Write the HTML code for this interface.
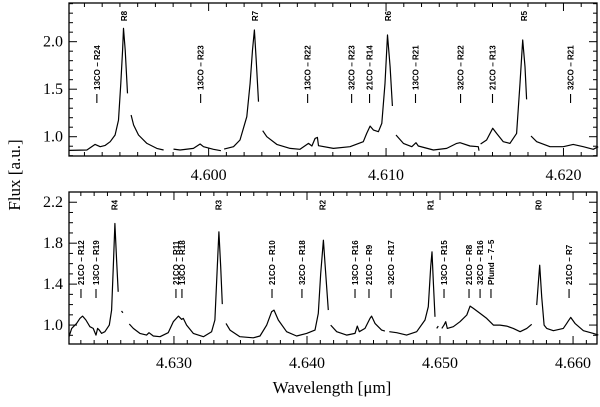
<!DOCTYPE html>
<html><head><meta charset="utf-8"><style>
html,body{margin:0;padding:0;background:#fff;}
svg{display:block;}
text{font-family:"Liberation Serif",serif;fill:#000;}
.ann{font-family:"Liberation Sans",sans-serif;font-size:8px;font-weight:bold;}
</style></head><body>
<svg id="chart" width="600" height="407" viewBox="0 0 600 407"></svg>
<script>
// ---- Data ----
const topSegWl = [
 [4.59214,4.59314,4.59360,4.59389,4.59417,4.59445,4.59473,4.59492,4.59505,4.59515,4.59520,4.59530,4.59543],
 [4.59563,4.59577,4.59605,4.59652,4.59708,4.59746],
 [4.59802,4.59839,4.59914,4.59952,4.59971,4.60027,4.60069],
 [4.60087,4.60140,4.60177,4.60215,4.60234,4.60247,4.60258,4.60268,4.60281],
 [4.60305,4.60328,4.60384,4.60459,4.60515,4.60563,4.60582,4.60600,4.60613,4.60619,4.60703,4.60797,4.60872,4.60891,4.60910,4.60929,4.60957,4.60976,4.60994,4.61008,4.61023,4.61036],
 [4.61056,4.61098,4.61145,4.61169,4.61182,4.61267,4.61342,4.61398,4.61417,4.61473,4.61520,4.61524],
 [4.61533,4.61567,4.61601,4.61623,4.61661,4.61698,4.61736,4.61755,4.61770,4.61783,4.61792],
 [4.61817,4.61849,4.61924,4.61999,4.62055,4.62112,4.62168,4.62196]
];
const topSegFlux = [
 [0.856,0.860,0.919,0.895,0.909,0.947,1.018,1.175,1.561,1.912,2.140,1.912,1.456],
 [1.228,1.123,1.018,0.930,0.877,0.860],
 [0.870,0.860,0.877,0.923,0.895,0.867,0.853],
 [0.870,0.895,0.965,1.211,1.561,1.912,2.123,1.807,1.368],
 [1.063,1.000,0.919,0.877,0.867,0.930,0.902,0.982,0.993,0.905,0.877,0.895,0.947,1.035,1.112,1.070,1.053,1.140,1.561,2.070,1.737,1.323],
 [1.018,0.930,0.895,0.937,0.902,0.860,0.877,0.930,0.937,0.902,0.895,0.853],
 [0.923,0.965,1.088,1.035,0.947,0.930,1.035,1.561,2.018,1.737,1.393],
 [1.007,0.947,0.895,0.895,0.919,0.895,0.867,0.895]
];
const botSegWl = [
 [4.62211,4.62231,4.62268,4.62293,4.62313,4.62338,4.62368,4.62393,4.62414,4.62426,4.62439,4.62456,4.62481,4.62514,4.62531,4.62544,4.62556,4.62569,4.62581],
 [4.62606,4.62616],
 [4.62664,4.62694,4.62744,4.62794,4.62812,4.62845,4.62895,4.62957,4.62995,4.63033,4.63058,4.63070,4.63095,4.63145,4.63221,4.63283,4.63308,4.63326,4.63338,4.63351,4.63363],
 [4.63391,4.63421,4.63496,4.63596,4.63647,4.63697,4.63734,4.63752,4.63784,4.63847,4.63922,4.63997,4.64060,4.64085,4.64103,4.64123,4.64135,4.64160],
 [4.64178,4.64223,4.64298,4.64361,4.64378,4.64393,4.64436,4.64474,4.64486,4.64511,4.64561,4.64586],
 [4.64619,4.64674,4.64749,4.64825,4.64887,4.64912,4.64930,4.64940,4.64950,4.64962],
 [4.64975,4.64987],
 [4.65013,4.65030,4.65043,4.65055,4.65100,4.65150,4.65201,4.65226,4.65251,4.65301,4.65351,4.65401,4.65451,4.65501,4.65551,4.65602,4.65652,4.65689],
 [4.65727,4.65739,4.65749,4.65764,4.65782,4.65802,4.65852,4.65927,4.65952,4.65965,4.65982,4.66015,4.66078,4.66153,4.66190]
];
const botSegFlux = [
 [0.886,0.967,1.016,1.065,1.088,1.049,0.984,0.967,0.902,0.967,0.951,0.919,0.935,1.000,1.146,1.569,1.992,1.634,1.325],
 [1.137,1.120],
 [1.010,0.967,0.919,0.902,0.925,0.893,0.886,0.925,1.033,1.088,1.055,1.065,1.000,0.919,0.886,0.935,1.049,1.569,1.911,1.569,1.205],
 [1.016,0.951,0.886,0.876,0.893,1.000,1.130,1.146,1.049,0.935,0.893,0.919,0.951,1.114,1.504,1.829,1.602,1.146],
 [1.000,0.935,0.902,0.919,0.990,0.935,0.967,1.065,1.088,1.016,0.951,0.941],
 [0.935,0.925,0.902,0.935,1.049,1.179,1.569,1.715,1.407,1.081],
 [0.967,0.990],
 [0.967,1.000,1.033,0.967,0.984,1.033,1.098,1.185,1.163,1.114,1.065,1.000,1.000,0.990,0.967,0.935,0.967,1.007],
 [1.195,1.407,1.585,1.276,1.000,0.967,0.945,0.967,1.016,1.042,1.075,1.016,0.945,0.919,0.902]
];
const topMainLabels = ["R8","R7","R6","R5"];
const topMainWl = [4.59523,4.60262,4.61012,4.61778];
const topAnnLabels = ["13CO − R24","13CO − R23","13CO − R22","32CO − R23","21CO − R14","13CO − R21","32CO − R22","21CO − R13","32CO − R21"];
const topAnnWl = [4.59370,4.59955,4.60558,4.60806,4.60907,4.61166,4.61420,4.61600,4.62040];
const botMainLabels = ["R4","R3","R2","R1","R0"];
const botMainWl = [4.62552,4.63334,4.64116,4.64928,4.65739];
const botAnnLabels = ["21CO − R12","13CO − R19","21CO − R11","13CO − R18","21CO − R10","32CO − R18","13CO − R16","21CO − R9","32CO − R17","13CO − R15","21CO − R8","32CO − R16","Pfund − 7−5","21CO − R7"];
const botAnnWl = [4.62301,4.62414,4.63015,4.63060,4.63737,4.63962,4.64361,4.64466,4.64632,4.65030,4.65218,4.65301,4.65383,4.65970];
const topYTicks = [1.0,1.5,2.0];
const botYTicks = [1.0,1.4,1.8,2.2];
const topXTicks = [4.600,4.610,4.620];
const botXTicks = [4.630,4.640,4.650,4.660];

// ---- Drawing ----
const NS="http://www.w3.org/2000/svg";
const svg=document.getElementById('chart');
function mk(tag,attrs,parent){const e=document.createElementNS(NS,tag);for(const k in attrs)e.setAttribute(k,attrs[k]);(parent||svg).appendChild(e);return e;}

function panel(cfg){
  const g=mk('g',{});
  
  
  const X=v=>cfg.x0+(v-cfg.wl0)/(cfg.wl1-cfg.wl0)*(cfg.x1-cfg.x0);
  const Y=v=>cfg.y1-(v-cfg.f0)/(cfg.f1-cfg.f0)*(cfg.y1-cfg.y0);
  cfg.segWl.forEach((ws,i)=>{
    const pts=ws.map((w,j)=>X(w).toFixed(1)+','+Y(cfg.segFlux[i][j]).toFixed(1)).join(' ');
    const pl=mk('polyline',{points:pts,fill:'none',stroke:'#000','stroke-width':1.2,'stroke-linejoin':'round'},g);
    
    
  });
  const fr=mk('rect',{x:cfg.x0,y:cfg.y0,width:cfg.x1-cfg.x0,height:cfg.y1-cfg.y0,fill:'none',stroke:'#000','stroke-width':1.3},g);
  
  
  const start=Math.ceil(cfg.wl0*1000), end=Math.floor(cfg.wl1*1000);
  for(let k=start;k<=end;k++){
    const x=X(k/1000); const major=(k%10===0); const L=major?8:4;
    mk('line',{x1:x,x2:x,y1:cfg.y1,y2:cfg.y1-L,stroke:'#000','stroke-width':1},g);
    mk('line',{x1:x,x2:x,y1:cfg.y0,y2:cfg.y0+L,stroke:'#000','stroke-width':1},g);
  }
  cfg.xTicks.forEach(t=>{
    const tx=mk('text',{x:X(t),y:cfg.y1+24,'text-anchor':'middle','font-size':16},g);
    tx.textContent=t.toFixed(3);
    
    
  });
  for(let k=Math.ceil(cfg.f0*10);k<=Math.floor(cfg.f1*10);k++){
    const v=k/10,y=Y(v); const major=cfg.yTicks.some(t=>Math.abs(t-v)<1e-6); const L=major?8:4;
    mk('line',{x1:cfg.x0,x2:cfg.x0+L,y1:y,y2:y,stroke:'#000','stroke-width':1},g);
    mk('line',{x1:cfg.x1,x2:cfg.x1-L,y1:y,y2:y,stroke:'#000','stroke-width':1},g);
  }
  cfg.yTicks.forEach(t=>{
    const tx=mk('text',{x:cfg.x0-6,y:Y(t)+5,'text-anchor':'end','font-size':16},g);
    tx.textContent=t.toFixed(1);
    
    
  });
  cfg.mainLabels.forEach((l,i)=>{
    const x=X(cfg.mainWl[i]);
    const tx=mk('text',{class:'ann',x:0,y:0,'text-anchor':'middle',transform:`translate(${x+3},${cfg.mainY}) rotate(-90)`},g);
    tx.textContent=l;
    
    
  });
  cfg.annLabels.forEach((l,i)=>{
    const x=X(cfg.annWl[i]);
    const ln=mk('line',{x1:x,x2:x,y1:cfg.annBot,y2:cfg.annBot-9,stroke:'#000','stroke-width':1.1},g);
    
    
    const tx=mk('text',{class:'ann',x:0,y:0,'text-anchor':'start',transform:`translate(${x+3},${cfg.annBot-13}) rotate(-90)`},g);
    tx.textContent=l;
    
    
  });
}
panel({name:'top-panel',x0:69,x1:597,y0:3,y1:156,wl0:4.59213,wl1:4.62189,f0:0.797,f1:2.407,
  segWl:topSegWl,segFlux:topSegFlux,xTicks:topXTicks,yTicks:topYTicks,
  mainLabels:topMainLabels,mainWl:topMainWl,mainY:16,annLabels:topAnnLabels,annWl:topAnnWl,annBot:103});
panel({name:'bottom-panel',x0:69,x1:597,y0:192,y1:344,wl0:4.62211,wl1:4.66180,f0:0.815,f1:2.30,
  segWl:botSegWl,segFlux:botSegFlux,xTicks:botXTicks,yTicks:botYTicks,
  mainLabels:botMainLabels,mainWl:botMainWl,mainY:205,annLabels:botAnnLabels,annWl:botAnnWl,annBot:298});
const yt=mk('text',{x:0,y:0,'text-anchor':'middle','font-size':17,transform:'translate(20,175) rotate(-90)'});
yt.textContent='Flux [a.u.]';


const xt=mk('text',{x:332,y:393,'text-anchor':'middle','font-size':17});
xt.textContent='Wavelength [μm]';


</script>
</body></html>
